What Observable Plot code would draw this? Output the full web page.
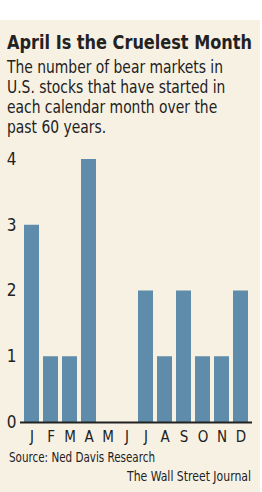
<!DOCTYPE html>
<html><head><meta charset="utf-8">
<script src="https://cdn.jsdelivr.net/npm/d3@7"></script>
<script src="https://cdn.jsdelivr.net/npm/@observablehq/plot@0.6"></script>
<style>
html,body{margin:0;padding:0;background:#fff;}
#card{position:absolute;left:0;top:20px;width:260px;height:472px;background:#f7f1e4;font-family:"DejaVu Sans Condensed","DejaVu Sans",sans-serif;color:#222;}
.fit{position:absolute;white-space:nowrap;transform-origin:0 0;}
#title{left:7px;top:10px;font-weight:bold;font-size:20px;line-height:24px;}
#sub{left:7px;top:37px;font-size:17px;line-height:20px;}
#chart{position:absolute;left:0;top:120px;}
#source{left:9px;top:429px;font-size:14px;line-height:16px;}
#credit{left:127px;top:448px;font-size:14px;line-height:16px;}
</style></head>
<body>
<div id="card">
<div id="title" class="fit" data-w="245">April Is the Cruelest Month</div>
<div id="sub" class="fit" data-w="216"><span id="l1">The number of bear markets in</span><br>U.S. stocks that have started in<br>each calendar month over the<br>past 60 years.</div>
<div id="chart"></div>
<div id="source" class="fit" data-w="146">Source: Ned Davis Research</div>
<div id="credit" class="fit" data-w="124">The Wall Street Journal</div>
</div>
<script>
const months = ["J","F","M","A","M","J","J","A","S","O","N","D"];
const counts = [3,1,1,4,0,0,2,1,2,1,1,2];
const yTicks = [0,1,2,3,4];
const data = months.map((m,i)=>({i, m, v: counts[i]}));
const chart = Plot.plot({
  width: 260, height: 306,
  marginLeft: 20, marginRight: 8, marginTop: 19, marginBottom: 24,
  style: {background: "transparent", fontFamily: "DejaVu Sans Condensed, DejaVu Sans, sans-serif", color: "#222"},
  x: {type: "band", domain: d3.range(12), padding: 0.2, paddingOuter: 0.1},
  y: {domain: [0,4]},
  marks: [
    Plot.gridY(yTicks.slice(1), {stroke: "#333", strokeOpacity: 0.9, strokeDasharray: "1.2,2.2", strokeWidth: 1.2, x1: 18, x2: 251}),
    Plot.barY(data, {x: "i", y: "v", fill: "#5f8cab"}),
    Plot.ruleY([0], {stroke: "#222", strokeWidth: 2}),
    Plot.axisY(yTicks, {tickSize: 0, tickPadding: 4, fontSize: 17, label: null, tickFormat: d => d}),
    Plot.axisX(d3.range(12), {tickSize: 0, tickPadding: 9, fontSize: 15, label: null, tickFormat: i => months[i]})
  ]
});
document.getElementById("chart").appendChild(chart);
document.querySelectorAll(".fit").forEach(el => {
  const target = +el.dataset.w;
  const ref = el.id === "sub" ? document.getElementById("l1") : el;
  const w = ref.getBoundingClientRect().width;
  if (w > 0) el.style.transform = `scaleX(${target / w})`;
});
</script>
</body></html>
